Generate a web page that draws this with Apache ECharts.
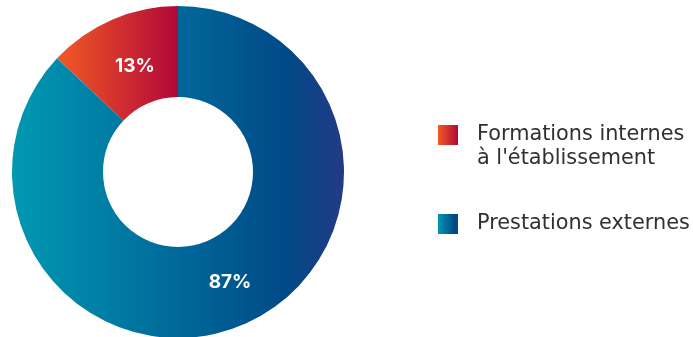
<!DOCTYPE html>
<html>
<head>
<meta charset="utf-8">
<script src="https://cdn.jsdelivr.net/npm/echarts@6/dist/echarts.min.js"></script>
<style>
  html, body { margin: 0; padding: 0; background: #ffffff; }
  #chart { width: 693px; height: 337px; }
</style>
</head>
<body>
<div id="chart"></div>
<script>
// Share of training delivered in-house vs. by outside providers (percent)
const categories = ["Formations internes\nà l'établissement", 'Prestations externes'];
const shares = [13, 87];

// Horizontal gradients used for the slices and the legend swatches
const sliceColors = [
  new echarts.graphic.LinearGradient(0, 0, 1, 0, [
    { offset: 0, color: '#f15a24' },
    { offset: 1, color: '#b2073a' }
  ]),
  new echarts.graphic.LinearGradient(0, 0, 1, 0, [
    { offset: 0, color: '#0099b2' },
    { offset: 0.5, color: '#00689a' },
    { offset: 0.82, color: '#004a88' },
    { offset: 1, color: '#233a84' }
  ])
];

// Nudges of the value labels inside their slices
const labelOffsets = [[6, 8], [3, -3]];

const LEGEND_FONT = 'DejaVu Sans';
const LINE = 24;

const chart = echarts.init(document.getElementById('chart'), null, { renderer: 'canvas' });

const legendText = {
  fontFamily: LEGEND_FONT,
  fontSize: 20.8,
  color: '#303030',
  lineHeight: LINE,
  padding: [0, 0, 0, 14]
};

chart.setOption({
  animation: false,
  legend: [
    {
      data: [categories[0]],
      left: 438,
      top: 99,
      padding: 0,
      itemWidth: 20,
      itemHeight: 20,
      icon: 'rect',
      selectedMode: false,
      // leading blank line keeps the first text line level with the swatch
      formatter: name => '\n' + name,
      textStyle: legendText
    },
    {
      data: [categories[1]],
      left: 438,
      top: 212,
      padding: 0,
      itemWidth: 20,
      itemHeight: 20,
      icon: 'rect',
      selectedMode: false,
      textStyle: legendText
    }
  ],
  series: [
    {
      type: 'pie',
      center: [178, 172],
      radius: [75, 166],
      startAngle: 90,
      clockwise: false,
      avoidLabelOverlap: false,
      emphasis: { disabled: true },
      label: {
        show: true,
        position: 'inside',
        formatter: '{c}%',
        color: '#ffffff',
        fontFamily: 'Inter',
        fontWeight: 'bold',
        fontSize: 19
      },
      labelLine: { show: false },
      data: categories.map((name, i) => ({
        name: name,
        value: shares[i],
        itemStyle: { color: sliceColors[i] },
        label: { offset: labelOffsets[i] }
      }))
    }
  ]
});
</script>
</body>
</html>
